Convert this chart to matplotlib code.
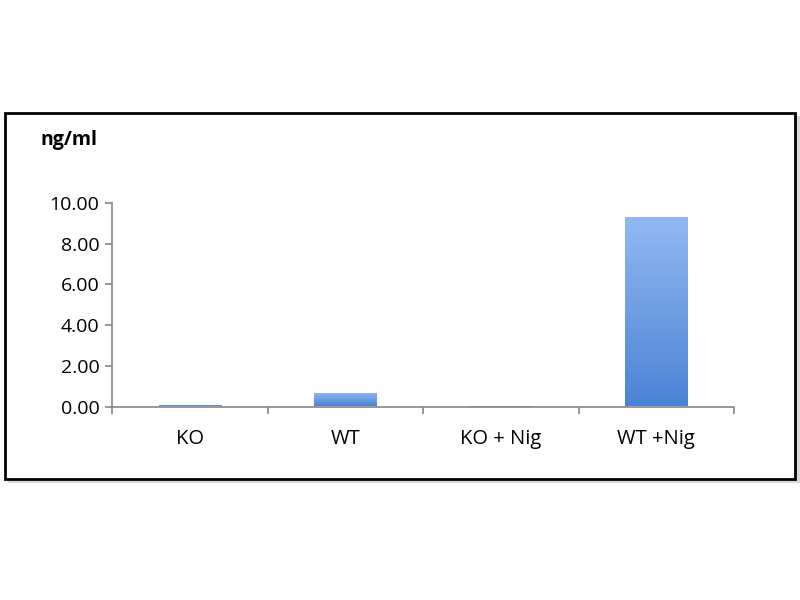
import matplotlib
matplotlib.use("Agg")
import matplotlib.pyplot as plt
from matplotlib.patches import Rectangle
import numpy as np

plt.rcParams['font.family'] = ['Open Sans', 'DejaVu Sans']

groups = ["KO", "WT", "KO + Nig", "WT +Nig"]
values = [0.05, 0.68, 0.04, 9.31]
yticks = [0, 2, 4, 6, 8, 10]

fig = plt.figure(figsize=(8, 6), dpi=100)

# outer frame with a soft shadow
shadow = Rectangle((0.010, 0.195), 0.990, 0.612, transform=fig.transFigure,
                   facecolor="#d8d8d8", edgecolor="none", zorder=0)
frame = Rectangle((0.006, 0.202), 0.988, 0.610, transform=fig.transFigure,
                  facecolor="white", edgecolor="black", linewidth=2, zorder=1)
fig.patches.extend([shadow, frame])

ax = fig.add_axes([0.14, 0.3225, 0.7775, 0.339])
ax.set_facecolor("none")
ax.set_zorder(2)

x = np.arange(len(groups))
bars = ax.bar(x, values, width=0.4, color="none", edgecolor="#5b8fd6", linewidth=0.6)

# vertical gradient fill, lighter at the top
grad = np.linspace(0, 1, 256).reshape(-1, 1)
cmap = matplotlib.colors.LinearSegmentedColormap.from_list("g", ["#4a84d6", "#93b9f2"])
for b in bars:
    x0, w, h = b.get_x(), b.get_width(), b.get_height()
    im = ax.imshow(grad, extent=[x0, x0 + w, 0, h], origin="lower", aspect="auto",
                   cmap=cmap, zorder=1)
    im.set_clip_path(b)

ax.set_xlim(-0.5, len(groups) - 0.5)
ax.set_ylim(0, 10)
ax.set_yticks(yticks)
ax.set_yticklabels(["%.2f" % t for t in yticks], fontsize=14)
ax.set_xticks(x)
ax.set_xticklabels(groups, fontsize=14.5)
ax.set_xticks(np.arange(len(groups) + 1) - 0.5, minor=True)
ax.tick_params(axis="x", which="major", length=0, pad=16)
ax.tick_params(axis="x", which="minor", length=5, color="#868686", width=1.2)
ax.tick_params(axis="y", length=5, color="#868686", width=1.2, pad=4)

for s in ["top", "right"]:
    ax.spines[s].set_visible(False)
for s in ["left", "bottom"]:
    ax.spines[s].set_color("#868686")
    ax.spines[s].set_linewidth(1.2)

fig.text(0.05, 0.767, "ng/ml", fontsize=14, fontweight="bold", ha="left", va="center")

fig.savefig("out.png", dpi=100)
